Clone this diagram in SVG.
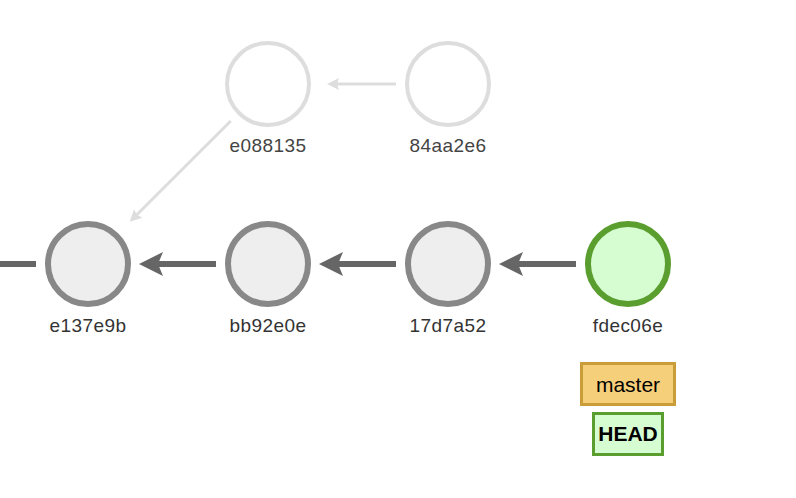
<svg xmlns="http://www.w3.org/2000/svg" width="796" height="498" viewBox="0 0 796 498">
  <style>
    .commit { fill: #eeeeee; stroke: #888888; stroke-width: 6; }
    .ghost { fill: #ffffff; stroke: #dddddd; stroke-width: 4; }
    .head-commit { fill: #d6fcd1; stroke: #5a9e2f; stroke-width: 6; }
    .label { font-family: "Liberation Sans", Arial, Helvetica, sans-serif; font-size: 19px; letter-spacing: 0.4px; fill: #333333; text-anchor: middle; }
    .ghost-label { fill: #444444; }
    .link { stroke: #666666; stroke-width: 6; fill: none; }
    .ghost-link { stroke: #dddddd; stroke-width: 3; fill: none; }
    .branch { fill: #f6cf7a; stroke: #c99d37; stroke-width: 3; }
    .head { fill: #d6fcd1; stroke: #5a9e2f; stroke-width: 3; }
    .ref-text { font-family: "Liberation Sans", Arial, Helvetica, sans-serif; font-size: 21px; fill: #000000; text-anchor: middle; }
  </style>
  <defs>
    <marker id="arrow" markerUnits="userSpaceOnUse" markerWidth="30" markerHeight="30" refX="5" refY="0" orient="auto" overflow="visible">
      <path d="M0,-12 L24,0 L0,12 L5,0 Z" fill="#666666"/>
    </marker>
    <marker id="arrow-ghost" markerUnits="userSpaceOnUse" markerWidth="16" markerHeight="16" refX="2" refY="0" orient="auto" overflow="visible">
      <path d="M0,-6 L12,0 L0,6 L2,0 Z" fill="#dddddd"/>
    </marker>
  </defs>
  <rect width="796" height="498" fill="#ffffff"/>

  <g id="connectors">
    <line class="link" x1="0" y1="264" x2="36" y2="264"/>
    <line class="link" x1="216" y1="264" x2="158" y2="264" marker-end="url(#arrow)"/>
    <line class="link" x1="396" y1="264" x2="338" y2="264" marker-end="url(#arrow)"/>
    <line class="link" x1="576" y1="264" x2="518" y2="264" marker-end="url(#arrow)"/>
    <line class="ghost-link" x1="396" y1="84" x2="337" y2="84" marker-end="url(#arrow-ghost)"/>
    <line class="ghost-link" x1="230.7" y1="121" x2="136.8" y2="214.8" marker-end="url(#arrow-ghost)"/>
  </g>

  <g id="commit-e088135">
    <circle class="ghost" cx="268" cy="84" r="41"/>
    <text class="label ghost-label" x="268" y="152">e088135</text>
  </g>
  <g id="commit-84aa2e6">
    <circle class="ghost" cx="448" cy="84" r="41"/>
    <text class="label ghost-label" x="448" y="152">84aa2e6</text>
  </g>
  <g id="commit-e137e9b">
    <circle class="commit" cx="88" cy="264" r="40"/>
    <text class="label" x="88" y="332">e137e9b</text>
  </g>
  <g id="commit-bb92e0e">
    <circle class="commit" cx="268" cy="264" r="40"/>
    <text class="label" x="268" y="332">bb92e0e</text>
  </g>
  <g id="commit-17d7a52">
    <circle class="commit" cx="448" cy="264" r="40"/>
    <text class="label" x="448" y="332">17d7a52</text>
  </g>
  <g id="commit-fdec06e">
    <circle class="head-commit" cx="628" cy="264" r="40"/>
    <text class="label" x="628" y="332">fdec06e</text>
  </g>

  <g id="branch-master">
    <rect class="branch" x="581.5" y="363.5" width="93" height="41"/>
    <text class="ref-text" x="628" y="392">master</text>
  </g>
  <g id="ref-HEAD">
    <rect class="head" x="593.5" y="413.5" width="69" height="41"/>
    <text class="ref-text" x="628" y="441" font-weight="bold">HEAD</text>
  </g>
</svg>
